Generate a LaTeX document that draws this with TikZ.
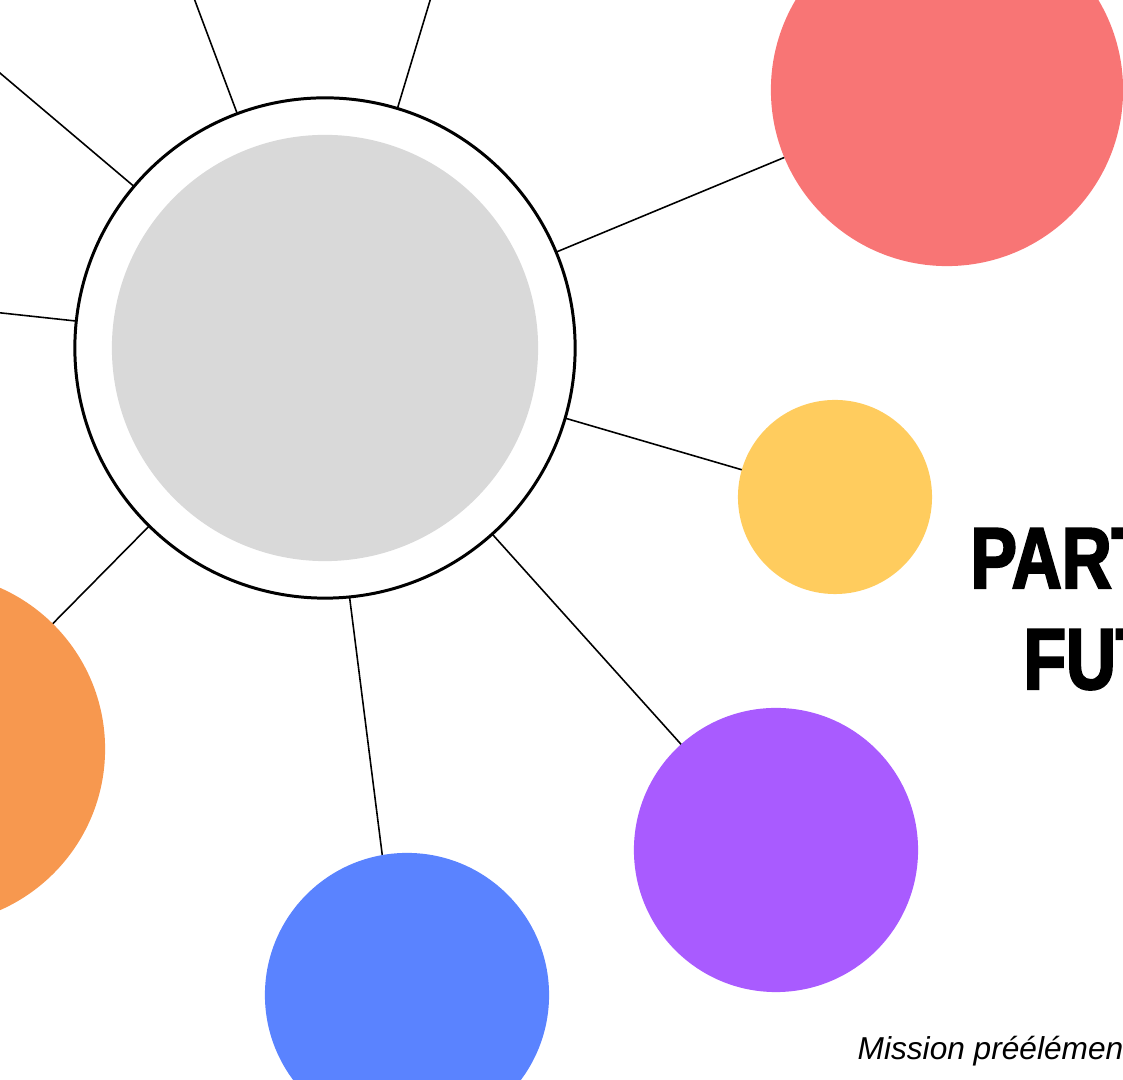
\documentclass[tikz,border=0pt]{standalone}
\usepackage{fontspec}
\setmainfont{Liberation Sans}
\newfontfamily\headfont[FakeStretch=0.8,FakeBold=2.5]{Liberation Sans}
\usetikzlibrary{backgrounds}
\definecolor{cgray}{HTML}{D9D9D9}
\definecolor{cred}{HTML}{F87575}
\definecolor{cyellow}{HTML}{FFCC5E}
\definecolor{cpurple}{HTML}{A95BFF}
\definecolor{cblue}{HTML}{5A83FF}
\definecolor{corange}{HTML}{F7984F}
\tikzset{
  bubble/.style={circle, inner sep=0pt, draw=none},
  link/.style={draw=black, line width=0.45pt},
  headtext/.style={anchor=base west, inner sep=0pt, font=\headfont\bfseries\fontsize{24.6pt}{28pt}\selectfont},
}
\begin{document}
\begin{tikzpicture}[x=0.01cm, y=-0.01cm]
\useasboundingbox (0,0) rectangle (1123,1080);
\clip (0,0) rectangle (1123,1080);
% hub
\node[bubble, fill=white, draw=black, line width=0.85pt, minimum size=5cm] (hub) at (325,348) {};
\node[bubble, fill=cgray, minimum size=4.26cm] (core) at (325,348) {};
% satellites
\node[bubble, fill=cred, minimum size=3.52cm] (red) at (947,90) {};
\node[bubble, fill=cyellow, minimum size=1.94cm] (yellow) at (835,497) {};
\node[bubble, fill=cpurple, minimum size=2.84cm] (purple) at (776,850) {};
\node[bubble, fill=cblue, minimum size=2.84cm] (blue) at (407,995) {};
\node[bubble, fill=corange, minimum size=3.52cm] (orange) at (-71,749) {};
% free ends off the page
\coordinate (u1) at (149,-122);
\coordinate (u2) at (455,-82);
\coordinate (u3) at (-97,-9);
\coordinate (u4) at (-100,302);
\begin{scope}[on background layer]
  \draw[link] (hub.center) -- (u1);
  \draw[link] (hub.center) -- (u2);
  \draw[link] (hub.center) -- (u3);
  \draw[link] (hub.center) -- (u4);
  \draw[link] (hub.center) -- (red.center);
  \draw[link] (hub.center) -- (yellow.center);
  \draw[link] (hub.center) -- (purple.center);
  \draw[link] ([xshift=-0.07cm]hub.center) -- ([xshift=-0.07cm]blue.center);
  \draw[link] (hub.center) -- (orange.center);
\end{scope}
% texts
\node[headtext] (t1) at (970,588) {PART};
\node[headtext] (t2) at (1023,689) {FUT};
\node[anchor=base west, inner sep=0pt, font=\itshape\fontsize{9.0pt}{10pt}\selectfont] (t3) at (857,1060) {Mission préélémen};
\end{tikzpicture}
\end{document}
